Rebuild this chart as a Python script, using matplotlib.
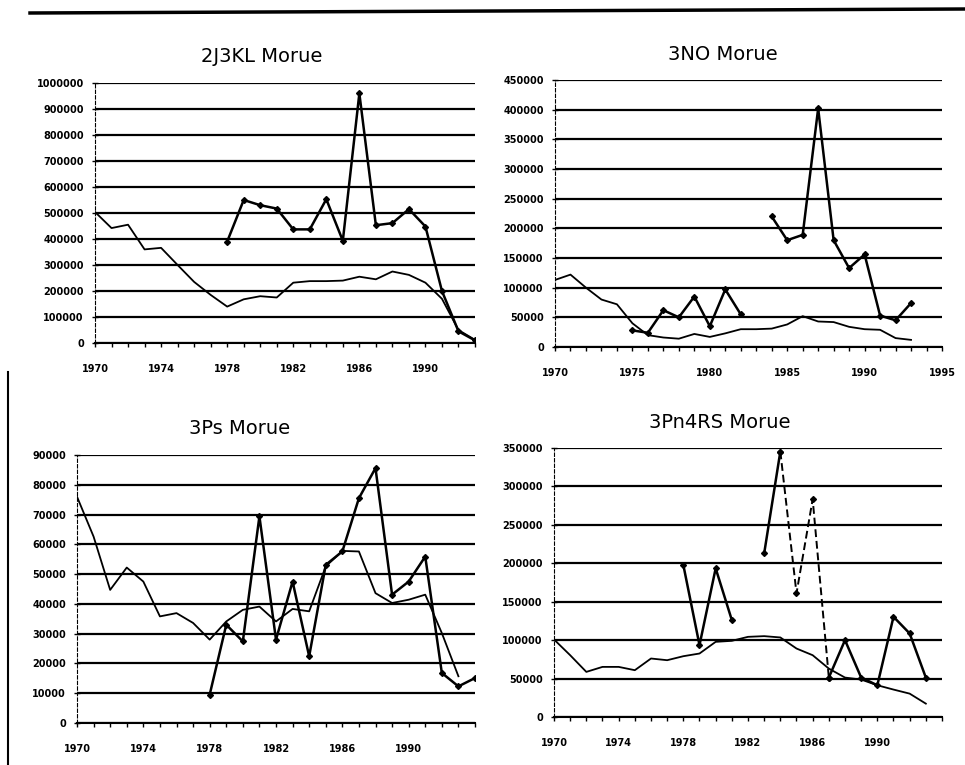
import numpy as np
import matplotlib
matplotlib.use("Agg")
import matplotlib.pyplot as plt
from matplotlib.ticker import MultipleLocator, FuncFormatter

nan = np.nan

# --- 2J3KL ---
years_2j3kl = list(range(1970, 1994))
cod_2j3kl_a = [nan] * 8 + [390000, 550000, 530000, 517000, 437000, 437000, 553000, 393000,
                           960000, 453000, 461000, 515000, 448000, 200000, 45000, 10000]
cod_2j3kl_b = [504000, 442000, 455000, 360000, 366000, 300000, 235000, 185000, 140000, 168000,
               180000, 175000, 232000, 238000, 238000, 240000, 255000, 245000, 275000, 262000,
               232000, 170000, 50000, 12000]

# --- 3NO ---
years_3no = list(range(1970, 1994))
cod_3no_a = [nan] * 5 + [28000, 24000, 62000, 50000, 85000, 35000, 97000, 55000, nan,
                         220000, 180000, 189000, 402000, 180000, 133000, 156000, 53000, 45000, 74000]
cod_3no_b = [113000, 122000, 100000, 80000, 72000, 40000, 20000, 16000, 14000, 22000,
             17000, 23000, 30000, 30000, 31000, 38000, 52000, 43000, 42000, 34000,
             30000, 29000, 15000, 12000]

# --- 3Ps ---
years_3ps = list(range(1970, 1995))
cod_3ps_a = [nan] * 8 + [9500, 33000, 27400, 69400, 28000, 47500, 22400, 53100, 57600,
                         75500, 85600, 43100, 47500, 55900, 16800, 12300, 15100]
cod_3ps_b = [76000, 62600, 44700, 52200, 47500, 35800, 36900, 33600, 28000, 34100,
             38000, 39100, 34100, 38300, 37500, 52600, 57800, 57600, 43600, 40300,
             41400, 43100, 30200, 15700, nan]

# --- 3Pn4RS ---
years_3pn = list(range(1970, 1994))
cod_3pn_a = [nan] * 8 + [197800, 93500, 193400, 126100, nan, 212800, 345400, 160900,
                         283300, 51300, 100000, 51300, 41300, 130400, 108700, 51300]
cod_3pn_b = [100900, 80400, 58700, 65200, 65200, 60900, 76100, 73900, 79100, 82600,
             97800, 99100, 104300, 105200, 103500, 89100, 80400, 63000, 51300, 48700,
             41300, 35700, 30400, 17400]

W, H = 965, 765
fig = plt.figure(figsize=(W / 100, H / 100), dpi=100)
fig.patch.set_facecolor("white")


def box(l, t, r, b):
    return [l / W, 1 - b / H, (r - l) / W, (b - t) / H]


def setup(ax, title, xlim, ymax, ystep, xticks, title_xy):
    ax.set_xlim(*xlim)
    ax.set_ylim(0, ymax)
    ax.yaxis.set_major_locator(MultipleLocator(ystep))
    ax.yaxis.set_major_formatter(FuncFormatter(lambda v, p: f"{int(round(v))}"))
    ax.set_xticks(xticks)
    ax.set_xticklabels([str(t) for t in xticks])
    ax.xaxis.set_minor_locator(MultipleLocator(1))
    ax.set_axisbelow(True)
    ax.yaxis.grid(True, color="black", lw=1.6)
    for s in ("top", "right"):
        ax.spines[s].set_visible(False)
    ax.spines["left"].set_linestyle((0, (3, 2)))
    ax.spines["left"].set_linewidth(0.8)
    ax.spines["bottom"].set_linewidth(1.5)
    ax.tick_params(axis="y", direction="inout", length=4, width=1, pad=6, labelsize=7)
    ax.tick_params(axis="x", which="both", direction="out", length=3, width=1, pad=12,
                   labelsize=7)
    for lab in ax.get_xticklabels() + ax.get_yticklabels():
        lab.set_fontweight("bold")
    fig.text(title_xy[0] / W, 1 - title_xy[1] / H, title, ha="center", va="center",
             fontsize=14, family="DejaVu Sans")


def draw(ax, x, a, b):
    ax.plot(x, b, color="black", lw=1.3)
    ax.plot(x, a, color="black", lw=1.8, marker="D", markersize=3)


ax1 = fig.add_axes(box(95, 83, 475, 343))
setup(ax1, "2J3KL Morue", (1970, 1993), 1000000, 100000, range(1970, 1993, 4), (262, 57))
draw(ax1, years_2j3kl, cod_2j3kl_a, cod_2j3kl_b)

ax2 = fig.add_axes(box(555, 80, 942, 347))
setup(ax2, "3NO Morue", (1970, 1995), 450000, 50000, range(1970, 1996, 5), (723, 55))
draw(ax2, years_3no, cod_3no_a, cod_3no_b)

ax3 = fig.add_axes(box(77, 455, 475, 723))
setup(ax3, "3Ps Morue", (1970, 1994), 90000, 10000, range(1970, 1994, 4), (240, 428))
draw(ax3, years_3ps, cod_3ps_a, cod_3ps_b)

ax4 = fig.add_axes(box(554, 448, 942, 717))
setup(ax4, "3Pn4RS Morue", (1970, 1994), 350000, 50000, range(1970, 1994, 4), (720, 423))
ax4.plot(years_3pn, cod_3pn_b, color="black", lw=1.3)
# 1984-1987 stretch is drawn as a broken line
solid = [nan if y in (1985, 1986) else v for y, v in zip(years_3pn, cod_3pn_a)]
dashed = [v if 1984 <= y <= 1987 else nan for y, v in zip(years_3pn, cod_3pn_a)]
ax4.plot(years_3pn, solid, color="black", lw=1.8, marker="D", markersize=3)
ax4.plot(years_3pn, dashed, color="black", lw=1.4, ls=(0, (4, 2)), marker="D", markersize=3)

# page border lines
fig.add_artist(plt.Line2D([30 / W, 1.0], [1 - 13 / H, 1 - 9 / H], color="black", lw=2.5))
fig.add_artist(plt.Line2D([8 / W, 8 / W], [1 - 372 / H, 0], color="black", lw=1.5))

fig.savefig("out.png", dpi=100)
